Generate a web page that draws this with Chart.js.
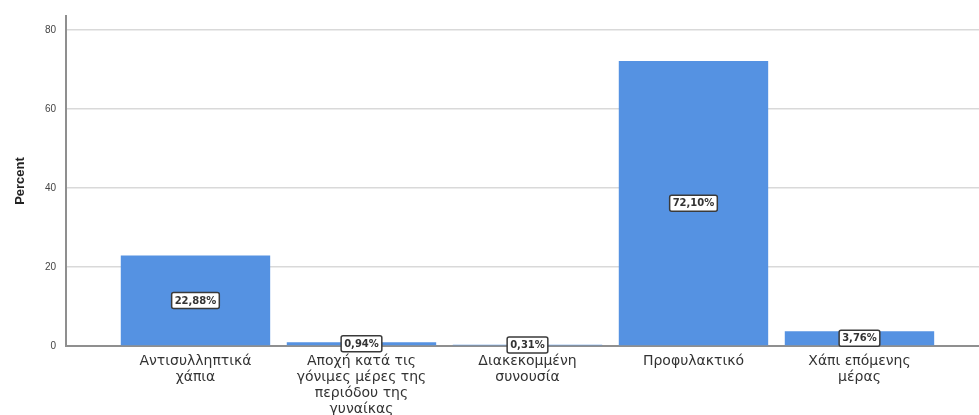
<!DOCTYPE html>
<html><head><meta charset="utf-8">
<script src="https://cdn.jsdelivr.net/npm/chart.js@4/dist/chart.umd.min.js"></script>
<style>html,body{margin:0;padding:0;background:#fff;}#wrap{width:979px;height:415px;}</style>
</head><body><div id="wrap"><canvas id="c" width="979" height="415"></canvas></div>
<script>
const categories = [
  ["Αντισυλληπτικά", "χάπια"],
  ["Αποχή κατά τις", "γόνιμες μέρες της", "περιόδου της", "γυναίκας"],
  ["Διακεκομμένη", "συνουσία"],
  ["Προφυλακτικό"],
  ["Χάπι επόμενης", "μέρας"]
];
const percentValues = [22.88, 0.94, 0.31, 72.10, 3.76];
const valueLabels = ["22,88%", "0,94%", "0,31%", "72,10%", "3,76%"];
const yTicks = [0, 20, 40, 60, 80];

const labelPlugin = {
  id: 'boxLabels',
  afterDatasetsDraw(chart) {
    const ctx = chart.ctx;
    const meta = chart.getDatasetMeta(0);
    ctx.save();
    ctx.font = 'bold 10px "DejaVu Sans", sans-serif';
    ctx.textAlign = 'center';
    ctx.textBaseline = 'middle';
    meta.data.forEach((bar, i) => {
      const cx = bar.x;
      const cy = (bar.y + bar.base) / 2;
      const t = valueLabels[i];
      const w = ctx.measureText(t).width + 6;
      const h = 16;
      ctx.beginPath();
      if (ctx.roundRect) ctx.roundRect(cx - w/2, cy - h/2, w, h, 2); else ctx.rect(cx - w/2, cy - h/2, w, h);
      ctx.fillStyle = '#ffffff';
      ctx.fill();
      ctx.lineWidth = 1.5;
      ctx.strokeStyle = '#3a3a3a';
      ctx.stroke();
      ctx.fillStyle = '#333333';
      ctx.fillText(t, cx, cy + 0.5);
    });
    ctx.restore();
  }
};

new Chart(document.getElementById('c'), {
  type: 'bar',
  data: {
    datasets: [{
      data: percentValues.map((v, i) => ({x: i, y: v})),
      backgroundColor: '#5592e2',
      borderWidth: 0,
      barPercentage: 0.9,
      categoryPercentage: 1.0
    }]
  },
  options: {
    responsive: false,
    animation: false,
    devicePixelRatio: 1,
    layout: {padding: {top: 11, right: 0, left: 0, bottom: 0}},
    plugins: {legend: {display: false}, tooltip: {enabled: false}},
    scales: {
      x: {
        type: 'linear',
        offset: false,
        min: -0.78,
        max: 4.72,
        afterBuildTicks: (s) => { s.ticks = categories.map((c, i) => ({value: i})); },
        afterFit: (s) => { s.height = 69; },
        grid: {display: false, drawTicks: false},
        border: {display: true, color: '#8f8f8f', width: 2},
        ticks: {
          autoSkip: false,
          maxRotation: 0,
          padding: 7,
          color: '#333333',
          font: {family: '"DejaVu Sans", sans-serif', size: 14, lineHeight: '16px'},
          callback: (v) => categories[v] || ''
        }
      },
      y: {
        min: 0,
        max: 83.5,
        afterBuildTicks: (s) => { s.ticks = yTicks.map(v => ({value: v})); },
        afterFit: (s) => { s.width = 66; },
        grid: {color: '#d9d9d9', lineWidth: 1.5, drawTicks: false},
        border: {display: true, color: '#8f8f8f', width: 2},
        ticks: {
          padding: 10,
          color: '#444444',
          font: {family: '"Liberation Sans", Arial, sans-serif', size: 10}
        },
        title: {
          display: true,
          text: 'Percent',
          color: '#222222',
          font: {family: '"Liberation Sans", Arial, sans-serif', size: 13, weight: 'bold'},
          padding: {top: 13, bottom: 0}
        }
      }
    }
  },
  plugins: [labelPlugin]
});
</script>
</body></html>
